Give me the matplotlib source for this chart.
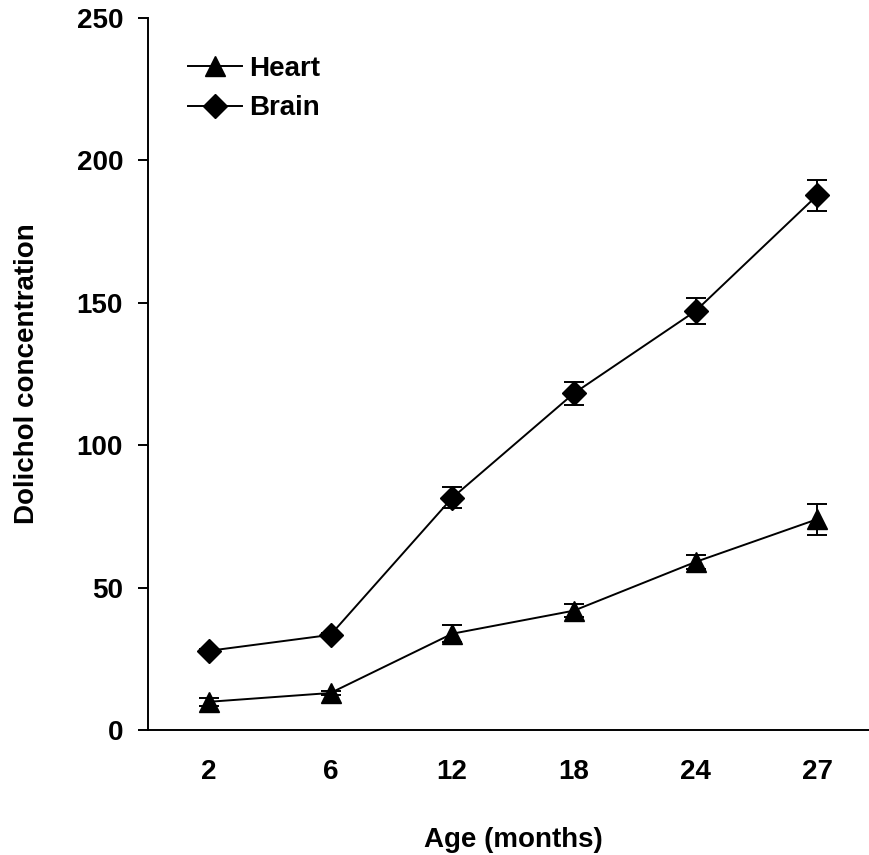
import numpy as np
import matplotlib
matplotlib.use("Agg")
import matplotlib.pyplot as plt

# donnees
ages = ["2", "6", "12", "18", "24", "27"]
heart = [9.9, 13.0, 33.8, 41.9, 59.0, 74.0]
heart_err = [1.5, 0.8, 3.0, 2.2, 2.6, 5.4]
brain = [27.8, 33.4, 81.5, 118.2, 147.1, 187.7]
brain_err = [0.8, 0.8, 3.7, 4.0, 4.5, 5.3]

plt.rcParams['font.family'] = ['Liberation Sans', 'DejaVu Sans']
plt.rcParams['font.weight'] = 'bold'
plt.rcParams['axes.labelweight'] = 'bold'
plt.rcParams['font.size'] = 20

fig = plt.figure(figsize=(8.69, 8.55), dpi=100)
ax = fig.add_axes([148 / 869, 1 - 730 / 855, 730 / 869, 712 / 855])

x = np.arange(len(ages))
# barres d'erreur
ax.errorbar(x, heart, yerr=heart_err, fmt='none', ecolor='black',
            capsize=7, capthick=1.4, elinewidth=1.4)
ax.errorbar(x, brain, yerr=brain_err, fmt='none', ecolor='black',
            capsize=7, capthick=1.4, elinewidth=1.4)
# courbes
ax.plot(x, heart, color='black', lw=1.4, marker='^', ms=15, label='Heart')
ax.plot(x, brain, color='black', lw=1.4, marker='D', ms=12, label='Brain')

ax.set_xlim(-0.5, 5.5)
ax.set_ylim(0, 250)
ax.set_yticks([0, 50, 100, 150, 200, 250])
ax.set_xticks(x)
ax.set_xticklabels(ages)
ax.tick_params(axis='x', length=0, pad=21)
ax.tick_params(axis='y', direction='out', length=7, width=1.4, pad=11)

for s in ['top', 'right']:
    ax.spines[s].set_visible(False)
ax.spines['left'].set_linewidth(1.4)
ax.spines['bottom'].set_linewidth(1.4)

ax.set_xlabel("Age (months)", labelpad=30)
ax.set_ylabel("Dolichol concentration", labelpad=26)

leg = ax.legend(loc='upper left', bbox_to_anchor=(188 / 869, 1 - 56 / 855),
                bbox_transform=fig.transFigure, frameon=False, handlelength=1.95,
                handletextpad=0.25, labelspacing=0.48, borderpad=0, borderaxespad=0)

fig.savefig("out.png", dpi=100)
